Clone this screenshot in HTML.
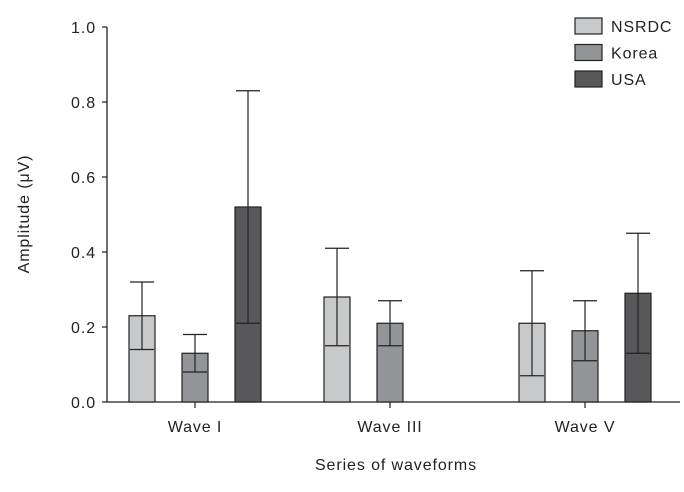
<!DOCTYPE html>
<html><head><meta charset="utf-8"><style>
body{margin:0;background:#fff}
svg text{font-family:"Liberation Sans",sans-serif;fill:#222;font-size:16px;letter-spacing:0.9px}
</style></head><body>
<svg id="chart" width="684" height="487" viewBox="0 0 684 487"></svg>
<script>
const categories=["Wave I","Wave III","Wave V"];
const seriesNames=["NSRDC","Korea","USA"];
const nsrdc=[0.23,0.28,0.21];
const korea=[0.13,0.21,0.19];
const usa=[0.52,null,0.29];
const nsrdcErr=[0.09,0.13,0.14];
const koreaErr=[0.05,0.06,0.08];
const usaErr=[0.31,null,0.16];
const yTicks=[0,0.2,0.4,0.6,0.8,1.0];
const colors=["#c8c9cb","#939497","#58585a"];
const svg=document.getElementById('chart');
const NS="http://www.w3.org/2000/svg";
function y(v){return 402-v*375;}
function xc(i){return 195+i*195;}
function mk(t,a,txt){const e=document.createElementNS(NS,t);for(const k in a)e.setAttribute(k,a[k]);if(txt!=null)e.textContent=txt;svg.appendChild(e);return e;}
let e;
e=mk('line',{x1:107,y1:27,x2:107,y2:402,stroke:'#222','stroke-width':1.3});

e=mk('line',{x1:107,y1:402,x2:680,y2:402,stroke:'#222','stroke-width':1.3});

yTicks.forEach(t=>{
 e=mk('line',{x1:102,y1:y(t),x2:107,y2:y(t),stroke:'#222','stroke-width':1.2});
 
 e=mk('text',{x:96,y:y(t)+6,'text-anchor':'end'},t.toFixed(1));
 
});
categories.forEach((c,i)=>{
 e=mk('line',{x1:xc(i),y1:402,x2:xc(i),y2:408,stroke:'#222','stroke-width':1.2});
 
 e=mk('text',{x:xc(i),y:432,'text-anchor':'middle'},c);
 
});
const vals=[nsrdc,korea,usa],errs=[nsrdcErr,koreaErr,usaErr];
categories.forEach((c,i)=>{
 vals.forEach((s,j)=>{
  const v=s[i];if(v==null)return;
  const cx=xc(i)+(j-1)*53;
  e=mk('rect',{x:cx-13,y:y(v),width:26,height:402-y(v),fill:colors[j],stroke:'#222','stroke-width':1.2});
  
  const er=errs[j][i];
  e=mk('path',{d:`M${cx},${y(v+er)}V${y(v-er)}M${cx-12},${y(v+er)}H${cx+12}M${cx-12},${y(v-er)}H${cx+12}`,stroke:'#222','stroke-width':1.2,fill:'none'});
  
 });
});
seriesNames.forEach((n,j)=>{
 const yy=18+j*26.5;
 e=mk('rect',{x:575,y:yy,width:27,height:16,fill:colors[j],stroke:'#222','stroke-width':1.2});
 
 e=mk('text',{x:611,y:yy+14},n);
 
});
e=mk('text',{x:396,y:470,'text-anchor':'middle','font-size':17},'Series of waveforms');

e=mk('text',{x:0,y:0,'text-anchor':'middle','font-size':17,transform:'translate(29,214) rotate(-90)'},'Amplitude (μV)');

</script>
</body></html>
